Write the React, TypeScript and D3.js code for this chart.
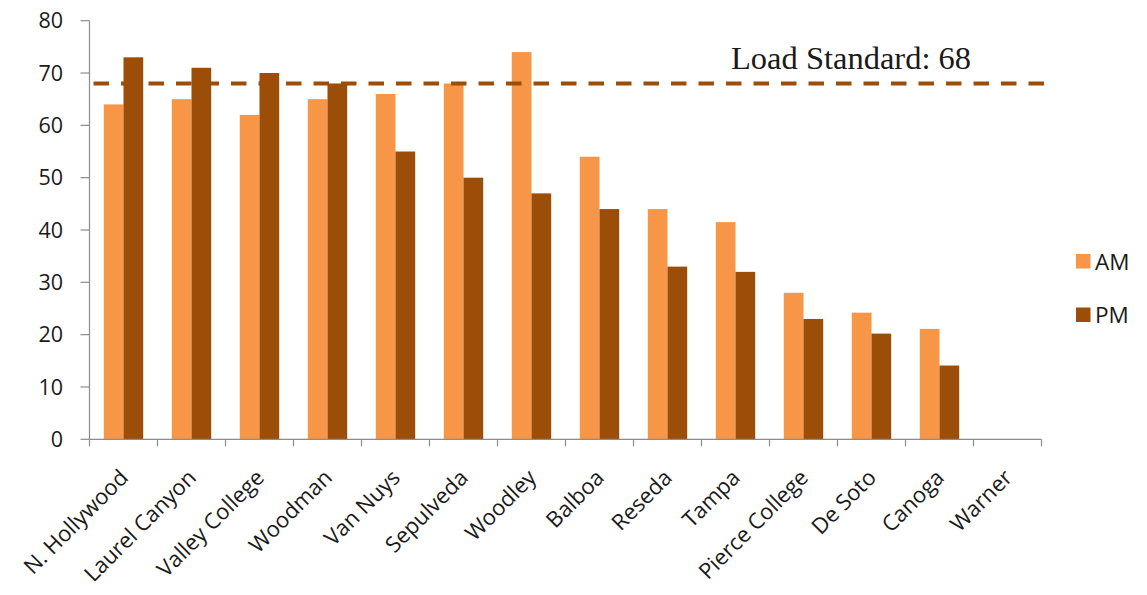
import React from "react";
import * as d3 from "d3";

const categories = ["N. Hollywood", "Laurel Canyon", "Valley College", "Woodman", "Van Nuys", "Sepulveda", "Woodley", "Balboa", "Reseda", "Tampa", "Pierce College", "De Soto", "Canoga", "Warner"];
const amValues = [64, 65, 62, 65, 66, 68, 74, 54, 44, 41.5, 28, 24.2, 21.1, 0];
const pmValues = [73, 71, 70, 68, 55, 50, 47, 44, 33, 32, 23, 20.2, 14.1, 0];
const seriesNames = ["AM", "PM"];
const seriesColors = ["#F79646", "#9C4D08"];
const yTicks = [0, 10, 20, 30, 40, 50, 60, 70, 80];
const loadStandard = 68;
const loadLabel = "Load Standard: 68";

const W = 1147, H = 595;
const left = 89.5, right = 1041.5, top = 20.7, bottom = 439.3;

export default function App() {
  const x = d3.scaleBand<string>().domain(categories).range([left, right]).paddingInner(0).paddingOuter(0);
  const sub = d3.scaleBand<string>().domain(seriesNames).range([0, x.bandwidth()]).paddingInner(0).paddingOuter(0.726);
  const y = d3.scaleLinear().domain([0, 80]).range([bottom, top]);
  const series = [amValues, pmValues];
  const font = "'Open Sans', sans-serif";
  const axisColor = "#8c8c8c";
  const tickPositions = d3.range(categories.length + 1).map(i => left + i * x.step());

  return (
    <svg width={W} height={H} style={{ position: "absolute", left: 0, top: 0, background: "#fff" }}>
      <rect width={W} height={H} fill="#fff" />
      {/* bars */}
      {categories.map((c, i) => (
        <g key={c}>
          {series.map((vals, s) => vals[i] > 0 ? (
            <rect key={s} x={(x(c) as number) + (sub(seriesNames[s]) as number)} y={y(vals[i])}
              width={sub.bandwidth()} height={y(0) - y(vals[i])} fill={seriesColors[s]} />
          ) : null)}
        </g>
      ))}
      {/* y axis */}
      <line x1={left} x2={left} y1={top} y2={bottom} stroke={axisColor} strokeWidth={1.2} />
      {yTicks.map(t => (
        <g key={t}>
          <line x1={left - 9} x2={left} y1={y(t)} y2={y(t)} stroke={axisColor} strokeWidth={1.2} />
          <text x={63} y={y(t)} dy="0.36em" textAnchor="end" fontFamily={font} fontSize={21.5} fill="#1a1a1a">{t}</text>
        </g>
      ))}
      {/* x axis */}
      <line x1={left} x2={right} y1={bottom} y2={bottom} stroke={axisColor} strokeWidth={1.2} />
      {tickPositions.map((p, i) => (
        <line key={i} x1={p} x2={p} y1={bottom} y2={bottom + 7} stroke={axisColor} strokeWidth={1.2} />
      ))}
      {categories.map(c => {
        const cx = (x(c) as number) + x.bandwidth() / 2;
        return (
          <text key={c} transform={`translate(${cx + 6},${479}) rotate(-45)`} textAnchor="end"
            fontFamily={font} fontSize={22} fill="#1a1a1a">{c}</text>
        );
      })}
      {/* load standard line */}
      <line x1={left} x2={right + 3} y1={y(loadStandard)} y2={y(loadStandard)} stroke="#9C4D08" strokeWidth={4}
        strokeDasharray="15.5 12" strokeDashoffset={-4} />
      <text x={731} y={69} fontFamily="'Liberation Serif', 'Times New Roman', serif" fontSize={32.5} fill="#1a1a1a">{loadLabel}</text>
      {/* legend */}
      {seriesNames.map((n, s) => (
        <g key={n} transform={`translate(1076, ${s === 0 ? 254 : 307.5})`}>
          <rect width={14.5} height={14.5} fill={seriesColors[s]} />
          <text x={19} y={7.5} dy="0.36em" fontFamily={font} fontSize={22.5} fill="#1a1a1a">{n}</text>
        </g>
      ))}
    </svg>
  );
}
